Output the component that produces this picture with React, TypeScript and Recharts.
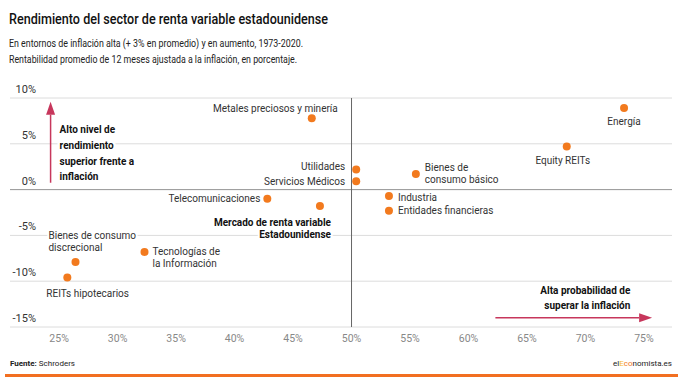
import {
  ScatterChart,
  Scatter,
  XAxis,
  YAxis,
  CartesianGrid,
  ReferenceLine,
  ReferenceDot,
} from "recharts";

// sector names ("\n" = line break in the label)
const SECTORS = [
  "Metales preciosos y minería",
  "Energía",
  "Equity REITs",
  "Utilidades",
  "Servicios Médicos",
  "Bienes de\nconsumo básico",
  "Industria",
  "Entidades financieras",
  "Telecomunicaciones",
  "Mercado de renta variable\nEstadounidense",
  "Bienes de consumo\ndiscrecional",
  "REITs hipotecarios",
  "Tecnologías de\nla Información",
];

// probability of beating inflation (%)
const BEAT_PROBABILITY = [46.6, 73.3, 68.4, 50.4, 50.4, 55.5, 53.2, 53.2, 42.8, 47.3, 26.4, 25.7, 32.3];

// average 12-month real return (%)
const REAL_RETURN = [7.8, 8.9, 4.7, 2.2, 0.9, 1.7, -0.7, -2.3, -1.0, -1.8, -7.9, -9.6, -6.8];

const X_TICKS = [25, 30, 35, 40, 45, 50, 55, 60, 65, 70, 75];
const Y_TICKS = [-15, -10, -5, 0, 5, 10];

const FONT = "Roboto, 'Noto Sans', sans-serif";
const ORANGE = "#f27a1e";
const ARROW = "#c7375c";

// label placement next to each dot (px offsets, first line centre)
const LABEL_LAYOUT = [
  { anchor: "end", dx: 26, dy: -10 },
  { anchor: "middle", dx: 0, dy: 13 },
  { anchor: "middle", dx: -4, dy: 14 },
  { anchor: "end", dx: -11, dy: -3 },
  { anchor: "end", dx: -11, dy: 0 },
  { anchor: "start", dx: 9, dy: -7 },
  { anchor: "start", dx: 9, dy: 1 },
  { anchor: "start", dx: 9, dy: 0 },
  { anchor: "end", dx: -7, dy: 0 },
  { anchor: "end", dx: 11, dy: 16, bold: true },
  { anchor: "start", dx: -27, dy: -26 },
  { anchor: "start", dx: -21, dy: 16 },
  { anchor: "start", dx: 8, dy: 0 },
];

const data = SECTORS.map((label, i) => ({
  idx: i,
  label,
  x: BEAT_PROBABILITY[i],
  y: REAL_RETURN[i],
}));

const SectorDot = (props: any) => {
  const { cx, cy, payload } = props;
  const lay = LABEL_LAYOUT[payload.idx];
  const lines = payload.label.split("\n");
  return (
    <g>
      <text
        textAnchor={lay.anchor}
        fontFamily={FONT}
        fontSize={10}
        fontWeight={lay.bold ? 700 : 400}
        fill={lay.bold ? "#111" : "#333"}
        stroke="#fff"
        strokeWidth={4}
        strokeLinejoin="round"
        paintOrder="stroke"
      >
        {lines.map((l: string, i: number) => (
          <tspan key={i} x={cx + lay.dx} y={cy + lay.dy + i * 12 + 3.5}>
            {l}
          </tspan>
        ))}
      </text>
      <circle cx={cx} cy={cy} r={4} fill={ORANGE} />
    </g>
  );
};

const Arrow = (props: any) => {
  const { x1, y1, x2, y2 } = props;
  const a = Math.atan2(y2 - y1, x2 - x1);
  const len = 13;
  const w = 4.5;
  const bx = x2 - len * Math.cos(a);
  const by = y2 - len * Math.sin(a);
  const px = -Math.sin(a) * w;
  const py = Math.cos(a) * w;
  return (
    <g>
      <line x1={x1} y1={y1} x2={bx} y2={by} stroke={ARROW} strokeWidth={1.5} />
      <polygon
        points={`${x2},${y2} ${bx + px},${by + py} ${bx - px},${by - py}`}
        fill={ARROW}
      />
    </g>
  );
};

const Note = (lines: string[], anchor: string, lineHeight: number) => (props: any) => {
  const { cx, cy } = props;
  return (
    <text
      textAnchor={anchor as any}
      fontFamily={FONT}
      fontSize={10}
      fontWeight={700}
      fill="#111"
      stroke="#fff"
      strokeWidth={5}
      strokeLinejoin="round"
      paintOrder="stroke"
    >
      {lines.map((l, i) => (
        <tspan key={i} x={cx} y={cy + i * lineHeight + 3.5}>
          {l}
        </tspan>
      ))}
    </text>
  );
};

// y tick labels sit inside the plot, right-aligned, just above their grid line
const renderYTick = (props: any) => {
  const { y, payload } = props;
  return (
    <text
      key={payload.value}
      x={36}
      y={y - 5}
      textAnchor="end"
      fontFamily={FONT}
      fontSize={11}
      fill="#333"
    >
      {payload.value}%
    </text>
  );
};

export default function App() {
  return (
    <div
      style={{
        position: "absolute",
        left: 0,
        top: 0,
        width: 690,
        height: 392,
        background: "#fff",
        overflow: "hidden",
      }}
    >
      <div style={{ position: "absolute", left: 0, top: 0 }}>
        <ScatterChart
          width={690}
          height={392}
          margin={{ top: 98, right: 18, bottom: 35, left: 0 }}
        >
          <CartesianGrid vertical={false} stroke="#dcdcdc" />
          <XAxis
            type="number"
            dataKey="x"
            domain={[20.8, 77.4]}
            ticks={X_TICKS}
            allowDataOverflow
            height={30}
            axisLine={false}
            tickLine={false}
            tick={{ fill: "#888", fontSize: 10.5, fontFamily: FONT }}
            tickFormatter={(v) => `${v}%`}
          />
          <YAxis
            type="number"
            dataKey="y"
            domain={[-15, 10]}
            ticks={Y_TICKS}
            width={10}
            axisLine={false}
            tickLine={false}
            interval={0}
            tick={renderYTick}
          />
          <ReferenceLine y={0} stroke="#9a9a9a" />
          <ReferenceLine x={50} stroke="#666" />
          <ReferenceLine
            segment={[
              { x: 24.27, y: 0.75 },
              { x: 24.27, y: 9.6 },
            ]}
            shape={Arrow}
          />
          <ReferenceLine
            segment={[
              { x: 62.3, y: -13.98 },
              { x: 75.7, y: -13.98 },
            ]}
            shape={Arrow}
          />
          <ReferenceDot
            x={25.04}
            y={6.54}
            shape={Note(
              ["Alto nivel de", "rendimiento", "superior frente a", "inflación"],
              "start",
              15.7
            )}
          />
          <ReferenceDot
            x={73.84}
            y={-11.04}
            shape={Note(["Alta probabilidad de", "superar la inflación"], "end", 15)}
          />
          <Scatter data={data} shape={<SectorDot />} isAnimationActive={false} />
        </ScatterChart>
      </div>
      <svg
        width={690}
        height={392}
        style={{ position: "absolute", left: 0, top: 0, pointerEvents: "none" }}
      >
        <text
          x={9}
          y={24}
          fontFamily={FONT}
          fontSize={14.5}
          fontWeight={500}
          fill="#111"
          textLength={319}
          lengthAdjust="spacingAndGlyphs"
        >
          Rendimiento del sector de renta variable estadounidense
        </text>
        <text
          x={9}
          y={47}
          fontFamily={FONT}
          fontSize={10.5}
          fill="#222"
          textLength={294}
          lengthAdjust="spacingAndGlyphs"
        >
          En entornos de inflación alta (+ 3% en promedio) y en aumento, 1973-2020.
        </text>
        <text
          x={9}
          y={62.5}
          fontFamily={FONT}
          fontSize={10.5}
          fill="#222"
          textLength={288}
          lengthAdjust="spacingAndGlyphs"
        >
          Rentabilidad promedio de 12 meses ajustada a la inflación, en porcentaje.
        </text>
        <text x={10} y={366} fontFamily={FONT} fontSize={8} fill="#222">
          <tspan fontWeight={700}>Fuente:</tspan> Schroders
        </text>
        <text x={672} y={366} textAnchor="end" fontFamily={FONT} fontSize={8} fill="#222">
          el<tspan fill="#f5b82e">E</tspan>
          <tspan fill={ORANGE}>co</tspan>nomista.es
        </text>
        <rect x={5} y={374} width={673} height={3} fill="#f26f21" />
      </svg>
    </div>
  );
}
